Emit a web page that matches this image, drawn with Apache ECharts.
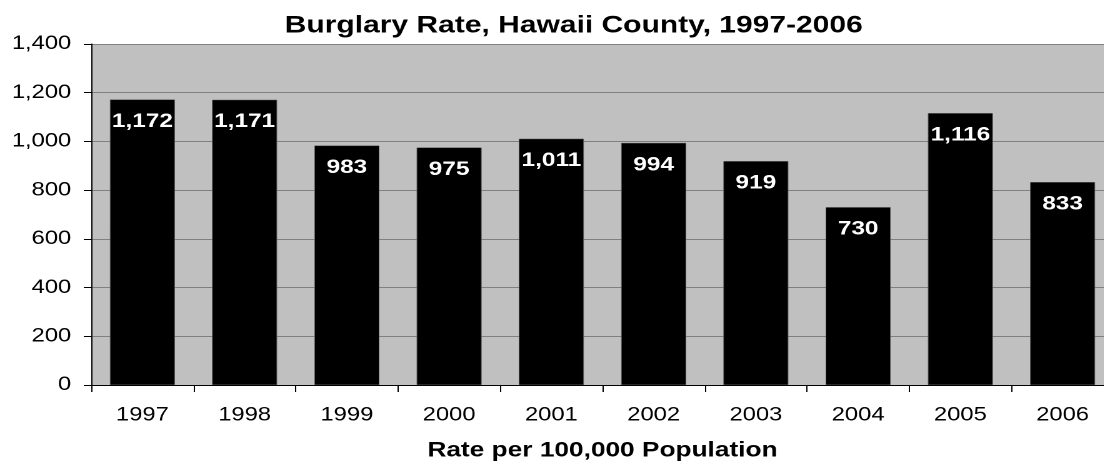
<!DOCTYPE html>
<html><head><meta charset="utf-8">
<script src="https://cdn.jsdelivr.net/npm/echarts@6/dist/echarts.min.js"></script>
<style>
html,body{margin:0;padding:0;background:#fff;overflow:hidden;width:1104px;height:466px}
#c{width:891px;height:466px;transform:scaleX(1.25);transform-origin:0 0}
</style>
</head><body><div id="c"></div>
<script>
const years = ['1997','1998','1999','2000','2001','2002','2003','2004','2005','2006'];
const rates = [1172,1171,983,975,1011,994,919,730,1116,833];
const titleText = 'Burglary Rate, Hawaii County, 1997-2006';
const xTitle = 'Rate per 100,000 Population';
const F = '"Liberation Sans", Arial, sans-serif';
const chart = echarts.init(document.getElementById('c'), null, {renderer:'canvas', devicePixelRatio:2});
chart.setOption({
  animation:false,
  title:{text:titleText,left:454,top:9,textAlign:'center',textStyle:{fontFamily:F,fontWeight:'bold',fontSize:24,color:'#000'}},
  grid:{left:73,right:0,top:44,bottom:79,show:true,backgroundColor:'#c0c0c0',borderWidth:0},
  xAxis:{type:'category',data:years,
    name:xTitle,nameLocation:'middle',nameGap:55,
    nameTextStyle:{fontFamily:F,fontWeight:'bold',fontSize:21,color:'#000'},
    axisLine:{lineStyle:{color:'#000',width:1}},
    axisTick:{show:true,length:7,lineStyle:{color:'#000'}},
    axisLabel:{fontFamily:F,fontSize:19,color:'#000',margin:21}},
  yAxis:{type:'value',min:0,max:1400,interval:200,
    axisLine:{show:true,lineStyle:{color:'#000',width:1}},
    axisTick:{show:true,length:6,lineStyle:{color:'#000'}},
    axisLabel:{fontFamily:F,fontSize:19,color:'#000',margin:16,
      formatter:v=>v.toLocaleString('en-US')},
    splitLine:{show:true,lineStyle:{color:'#808080',width:1}}},
  series:[{type:'bar',data:rates,barWidth:52,
    itemStyle:{color:'#000',borderColor:'#555',borderWidth:0.5},
    label:{show:true,position:'insideTop',distance:12,color:'#fff',fontFamily:F,fontWeight:'bold',fontSize:19.5,
      formatter:p=>p.value.toLocaleString('en-US')}}]
});
</script></body></html>
